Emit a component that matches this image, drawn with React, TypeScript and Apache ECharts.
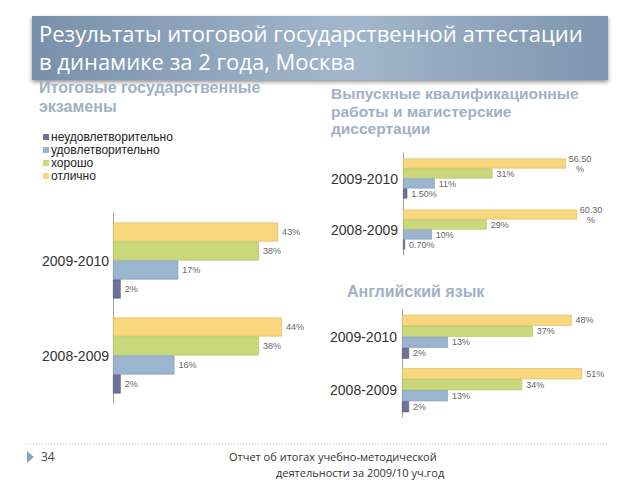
import React, { useEffect, useRef } from "react";
import * as echarts from "echarts";

const categories = ["2008-2009", "2009-2010"];
const seriesNames = ["неудовлетворительно", "удовлетворительно", "хорошо", "отлично"];
const colors = ["#6c7299", "#9bb5ce", "#c8d87a", "#f9d77f"];
const borders = ["#55597d", "#7f99b3", "#aebd60", "#dcb95f"];

// Итоговые государственные экзамены
const examsUnsat = [2, 2];
const examsSat = [16, 17];
const examsGood = [38, 38];
const examsExcellent = [44, 43];

// Выпускные квалификационные работы
const thesesUnsat = [0.7, 1.5];
const thesesSat = [10, 11];
const thesesGood = [29, 31];
const thesesExcellent = [60.3, 56.5];

// Английский язык
const englishUnsat = [2, 2];
const englishSat = [13, 13];
const englishGood = [34, 37];
const englishExcellent = [51, 48];

const titleLines = ["Результаты итоговой государственной аттестации", "в динамике за 2 года, Москва"];
const leftSubtitle = ["Итоговые государственные", "экзамены"];
const rightSubtitle = ["Выпускные квалификационные", "работы и магистерские", "диссертации"];
const englishTitle = "Английский язык";
const footerPage = "34";
const footerLines = ["Отчет об итогах учебно-методической", "деятельности за 2009/10 уч.год"];

const fmt = (v: number) => (Number.isInteger(v) ? `${v}%` : `${v.toFixed(2)}%`);

export default function App() {
  const ref = useRef<HTMLDivElement>(null);
  useEffect(() => {
    if (!ref.current) return;
    const chart = echarts.init(ref.current, undefined, { renderer: "svg" });

    const grids = [
      { left: 113, top: 213, width: 192, height: 190 },
      { left: 403, top: 153, width: 202, height: 102 },
      { left: 402, top: 310, width: 212, height: 107 },
    ];
    const maxes = [50, 70, 60];
    const barWidths = [19, 10, 11];
    const labelMargins = [4, 5, 5];
    const chartData = [
      [examsUnsat, examsSat, examsGood, examsExcellent],
      [thesesUnsat, thesesSat, thesesGood, thesesExcellent],
      [englishUnsat, englishSat, englishGood, englishExcellent],
    ];

    const series: any[] = [];
    chartData.forEach((sets, gi) => {
      // first series is drawn at the top of each group, so add in reverse
      for (let si = sets.length - 1; si >= 0; si--) {
        const vals = sets[si];
        const twoLine = gi === 1 && si === 3;
        series.push({
          type: "bar",
          name: seriesNames[si],
          xAxisIndex: gi,
          yAxisIndex: gi,
          barWidth: barWidths[gi],
          barGap: "0%",
          data: vals,
          itemStyle: { color: colors[si], borderColor: borders[si], borderWidth: 0.6 },
          label: {
            show: true,
            position: "right",
            distance: twoLine ? 14 : 4,
            align: twoLine ? "center" : "left",
            formatter: (p: any) => (twoLine ? `${p.value.toFixed(2)}\n%` : fmt(p.value)),
            fontSize: 9,
            lineHeight: 10,
            color: "#666",
            fontFamily: "Liberation Sans",
          },
        });
      }
    });

    const text = (
      x: number,
      y: number,
      t: string,
      size: number,
      color: string,
      weight: any = "normal",
      lineHeight?: number,
      family = "Open Sans"
    ) => ({
      type: "text",
      x,
      y,
      style: {
        text: t,
        fontSize: size,
        fontFamily: family,
        fontWeight: weight,
        fill: color,
        lineHeight,
        textVerticalAlign: "middle",
      },
    });

    const subColor = "#9fb1c6";
    const subFont = "Liberation Sans";

    chart.setOption({
      animation: false,
      legend: {
        data: seriesNames,
        orient: "vertical",
        left: 38,
        top: 126,
        itemWidth: 6,
        itemHeight: 6,
        itemGap: 1,
        icon: "rect",
        itemStyle: { borderWidth: 0 },
        textStyle: { fontSize: 12, color: "#222", fontFamily: "Liberation Sans", padding: [0, 0, 0, -3] },
        selectedMode: false,
      },
      grid: grids.map((g) => ({ ...g, containLabel: false })),
      xAxis: grids.map((_, i) => ({
        type: "value",
        gridIndex: i,
        min: 0,
        max: maxes[i],
        show: false,
      })),
      yAxis: grids.map((_, i) => ({
        type: "category",
        gridIndex: i,
        data: categories,
        axisLine: { show: true, lineStyle: { color: "#a0a0a0", width: 1 } },
        axisTick: { show: false },
        axisLabel: { fontSize: 14, color: "#333", fontFamily: "Liberation Sans", margin: labelMargins[i] },
      })),
      series,
      graphic: [
        {
          type: "rect",
          shape: { x: 32, y: 16, width: 576, height: 64 },
          style: {
            fill: new echarts.graphic.LinearGradient(0, 0, 1, 0, [
              { offset: 0, color: "#7890ab" },
              { offset: 0.55, color: "#a2b7cb" },
              { offset: 1, color: "#7d95af" },
            ]),
            shadowBlur: 4,
            shadowOffsetY: 2,
            shadowColor: "rgba(0,0,0,0.45)",
          },
        },
        text(39, 33, titleLines[0], 22, "#ffffff"),
        text(39, 61, titleLines[1], 22, "#ffffff"),
        text(39, 97, leftSubtitle.join("\n"), 16, subColor, "bold", 19, subFont),
        text(331, 111, rightSubtitle.join("\n"), 15.5, subColor, "bold", 17.5, subFont),
        text(347, 291, englishTitle, 16, subColor, "bold", undefined, subFont),
        {
          type: "line",
          shape: { x1: 27, y1: 444, x2: 607, y2: 444 },
          style: { stroke: "#c4c4c4", lineWidth: 1, lineDash: [1, 2] },
        },
        {
          type: "polygon",
          shape: { points: [[27, 451], [34, 457], [27, 463]] },
          style: { fill: "#8ea5bc" },
        },
        text(41, 456, footerPage, 12, "#444"),
        text(229, 456, footerLines[0], 11, "#333"),
        text(276, 472, footerLines[1], 11, "#333"),
      ],
    });
    return () => chart.dispose();
  }, []);
  return (
    <div
      ref={ref}
      style={{ position: "absolute", left: 0, top: 0, width: 640, height: 480, background: "#fff" }}
    />
  );
}
